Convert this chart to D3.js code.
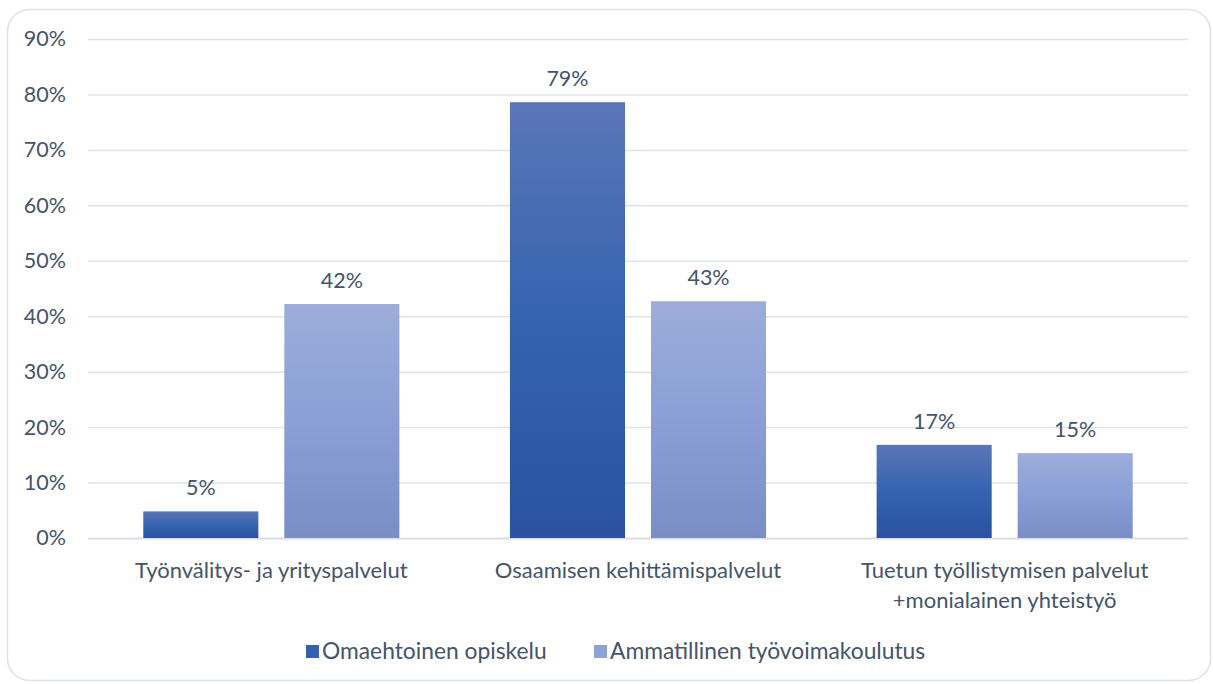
<!DOCTYPE html>
<html><head><meta charset="utf-8">
<script src="https://cdn.jsdelivr.net/npm/d3@7"></script>
<style>body{margin:0;background:#fff}svg{display:block}</style>
</head><body>
<svg id="c" width="1213" height="684"></svg>
<script>
const categories = [["Työnvälitys- ja yrityspalvelut"], ["Osaamisen kehittämispalvelut"], ["Tuetun työllistymisen palvelut", "+monialainen yhteistyö"]];
const seriesNames = ["Omaehtoinen opiskelu", "Ammatillinen työvoimakoulutus"];
const omaehtoinen = [0.048, 0.786, 0.168];
const ammatillinen = [0.422, 0.427, 0.153];
const yTicks = [0, 0.1, 0.2, 0.3, 0.4, 0.5, 0.6, 0.7, 0.8, 0.9];

const svg = d3.select("#c");
const font = "Lato, 'Open Sans', sans-serif";
const fs = "21.5px";
const textCol = "#44546a";
const L = 88, R = 1188, T = 39, B = 538;

svg.append("rect").attr("x", 7.5).attr("y", 9.5).attr("width", 1203).attr("height", 671)
  .attr("rx", 22).attr("fill", "#fff").attr("stroke", "#dde1e8").attr("stroke-width", 1.5);

const defs = svg.append("defs");
const g1 = defs.append("linearGradient").attr("id", "gd").attr("x1", 0).attr("y1", 0).attr("x2", 0).attr("y2", 1);
g1.append("stop").attr("offset", "0%").attr("stop-color", "#5a76b7");
g1.append("stop").attr("offset", "50%").attr("stop-color", "#3563b0");
g1.append("stop").attr("offset", "100%").attr("stop-color", "#2a52a0");
const g2 = defs.append("linearGradient").attr("id", "gl").attr("x1", 0).attr("y1", 0).attr("x2", 0).attr("y2", 1);
g2.append("stop").attr("offset", "0%").attr("stop-color", "#9cadda");
g2.append("stop").attr("offset", "50%").attr("stop-color", "#8b9fd6");
g2.append("stop").attr("offset", "100%").attr("stop-color", "#798ec5");
const fills = ["url(#gd)", "url(#gl)"];
const legendFills = ["#3560ad", "#8fa2d6"];

const y = d3.scaleLinear().domain([0, 0.9]).range([B, T]);
const x0 = d3.scaleBand().domain(d3.range(categories.length)).range([L, R]).paddingInner(0).paddingOuter(0);
const x1 = d3.scaleBand().domain([0, 1]).range([0, x0.bandwidth()]).paddingInner(0.184).paddingOuter(0.392);

// grid
const yAxis = d3.axisLeft(y).tickValues(yTicks).tickFormat(d3.format(".0%")).tickSize(-(R - L)).tickPadding(22);
const ga = svg.append("g").attr("transform", `translate(${L},0)`).call(yAxis);
ga.select(".domain").remove();
ga.selectAll(".tick line").attr("stroke", "#dfe3ea").attr("stroke-width", 1.5);
ga.selectAll(".tick text").attr("fill", textCol).style("font-family", font).style("font-size", fs);
ga.selectAll(".tick").filter(d => d === 0).select("line").attr("stroke", "#d9dde4").attr("stroke-width", 2);

const data = [omaehtoinen, ammatillinen];
const groups = svg.append("g").selectAll("g").data(categories).join("g")
  .attr("transform", (d, i) => `translate(${x0(i)},0)`);
groups.each(function(d, ci) {
  const g = d3.select(this);
  data.forEach((s, si) => {
    g.append("rect").attr("x", x1(si)).attr("width", x1.bandwidth())
      .attr("y", y(s[ci])).attr("height", B - y(s[ci])).attr("fill", fills[si]);
    g.append("text").attr("x", x1(si) + x1.bandwidth() / 2).attr("y", y(s[ci]) - 16)
      .attr("text-anchor", "middle").attr("fill", textCol).style("font-family", font).style("font-size", fs)
      .text(d3.format(".0%")(s[ci]));
  });
  d.forEach((line, li) => {
    g.append("text").attr("x", x0.bandwidth() / 2).attr("y", 578 + li * 30)
      .attr("text-anchor", "middle").attr("fill", textCol).style("font-family", font).style("font-size", "22px")
      .text(line);
  });
});

// legend
const legX = [306, 594];
seriesNames.forEach((n, i) => {
  svg.append("rect").attr("x", legX[i]).attr("y", 645).attr("width", 13).attr("height", 13).attr("fill", legendFills[i]);
  svg.append("text").attr("x", legX[i] + 16).attr("y", 659).attr("fill", textCol)
    .style("font-family", font).style("font-size", "22.8px").text(n);
});
</script>
</body></html>
